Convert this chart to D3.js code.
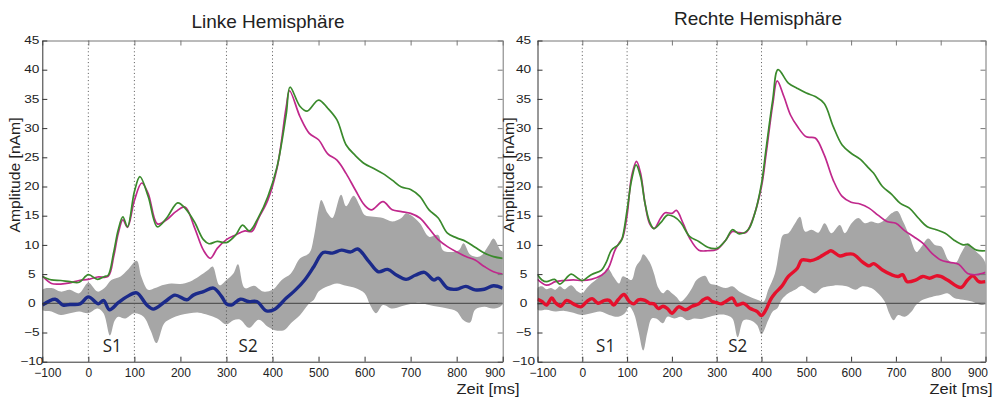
<!DOCTYPE html>
<html>
<head>
<meta charset="utf-8">
<script src="https://cdn.jsdelivr.net/npm/d3@7"></script>
<style>
  html, body { margin: 0; padding: 0; background: #fff; }
  svg { display: block; }
  text { font-family: "Liberation Sans", Arial, sans-serif; fill: #222; }
</style>
</head>
<body>
<svg id="chart" width="1000" height="403"></svg>
<script>
// Source waveforms, [time in ms, amplitude in nAm]

const timeTicks = [-100, 0, 100, 200, 300, 400, 500, 600, 700, 800, 900];
const ampTicks = [-10, -5, 0, 5, 10, 15, 20, 25, 30, 35, 40, 45];
const stimulusMarks = [0, 100, 300, 400];
const stimulusLabels = [{ text: "S1", t: 52 }, { text: "S2", t: 347 }];

// Left hemisphere
const leftGreen = [[-100,4.6],[-80,4.0],[-60,3.9],[-40,3.7],[-20,3.6],[0,4.9],[20,4.1],[35,4.6],[43,4.8],[55,8.7],[65,12.6],[75,14.8],[85,13.1],[100,19.1],[112,21.7],[130,18.3],[150,13.1],[170,14.6],[194,17.2],[210,16.3],[230,14.0],[250,10.9],[262,10.2],[280,10.6],[300,10.4],[320,11.7],[335,13.4],[350,12.4],[370,14.8],[390,18.3],[410,23.4],[430,32.5],[438,37.0],[460,33.7],[475,32.9],[500,34.8],[520,33.4],[540,31.4],[560,27.1],[580,25.3],[600,23.9],[620,23.1],[640,22.2],[660,21.1],[680,19.9],[700,19.5],[720,18.3],[740,16.0],[760,14.6],[780,12.0],[800,11.2],[820,10.6],[840,9.6],[860,8.6],[880,8.0],[900,7.7]];
const leftMagenta = [[-100,4.7],[-80,3.4],[-60,3.3],[-40,3.5],[-20,3.9],[0,4.1],[20,4.5],[43,4.6],[55,8.0],[65,12.0],[75,14.3],[85,13.0],[100,17.6],[116,20.6],[130,18.8],[150,13.6],[170,14.3],[190,15.7],[210,16.5],[230,13.1],[250,9.1],[265,7.7],[280,9.4],[300,10.9],[320,11.7],[340,12.4],[355,12.3],[370,14.6],[390,17.7],[410,23.2],[430,33.7],[437,36.4],[460,31.9],[480,29.1],[500,28.0],[520,25.6],[540,24.5],[560,22.2],[580,19.4],[600,16.8],[615,16.0],[640,17.4],[660,16.0],[680,15.7],[700,15.4],[720,14.6],[740,12.8],[760,10.9],[780,9.7],[800,8.8],[820,8.0],[840,7.4],[860,6.3],[880,5.4],[900,5.0]];
const leftMean = [[-100,-0.3],[-72,0.7],[-55,-0.3],[-40,-0.2],[-18,-0.1],[0,1.1],[22,-0.1],[33,0.5],[46,-1.1],[65,0.1],[83,1.1],[105,1.8],[127,-0.3],[141,-1.0],[167,0.3],[188,1.4],[214,0.6],[228,1.4],[250,2.0],[272,2.6],[290,1.1],[300,-0.1],[311,-0.3],[330,0.7],[348,0.3],[366,0.3],[387,-1.3],[405,-1.0],[430,0.9],[450,2.3],[470,4.0],[490,6.3],[510,8.7],[530,8.6],[550,9.1],[570,8.8],[585,9.3],[610,7.1],[630,5.4],[650,5.8],[670,4.8],[690,4.1],[710,4.8],[730,5.3],[750,4.0],[760,4.3],[780,2.6],[800,2.4],[820,2.9],[840,2.3],[860,2.4],[880,3.0],[900,2.6]];
const leftUpper = [[-100,2.3],[-80,2.6],[-60,2.0],[-40,2.3],[-20,1.7],[0,3.5],[20,2.0],[35,2.6],[50,4.0],[70,4.6],[85,5.7],[105,7.3],[115,4.6],[130,2.3],[145,2.6],[160,3.1],[180,3.4],[200,3.3],[220,3.7],[240,4.6],[260,5.7],[270,6.3],[285,3.1],[300,4.0],[315,5.1],[325,6.7],[340,2.6],[360,3.0],[380,2.0],[400,2.3],[420,4.0],[440,5.1],[460,7.7],[480,8.6],[490,11.4],[500,16.0],[506,17.7],[520,15.4],[530,14.6],[549,18.6],[560,16.6],[576,18.4],[590,16.6],[600,15.1],[620,14.8],[640,14.6],[660,14.0],[680,14.6],[690,15.4],[700,15.1],[720,13.7],[740,11.4],[760,11.7],[770,9.1],[790,8.8],[805,9.1],[815,10.3],[830,8.3],[850,8.0],[870,10.0],[880,11.1],[895,9.1],[900,8.8]];
const leftLower = [[-100,-1.1],[-80,-1.4],[-60,-2.0],[-40,-1.7],[-20,-1.4],[0,-1.7],[20,-0.9],[33,-1.7],[47,-5.5],[57,-3.0],[65,-2.3],[80,-2.6],[100,-1.7],[120,-2.3],[135,-4.6],[148,-6.8],[165,-3.4],[180,-2.6],[200,-2.0],[220,-1.7],[240,-1.6],[260,-2.0],[280,-2.6],[300,-3.6],[315,-2.9],[330,-2.8],[349,-4.2],[370,-2.8],[390,-4.0],[405,-4.6],[425,-4.6],[440,-3.4],[460,-2.0],[480,0.0],[490,0.6],[500,2.0],[520,2.9],[540,3.4],[560,3.0],[580,2.6],[600,1.7],[612,-0.3],[625,-1.7],[640,-0.3],[660,-0.9],[680,-0.5],[700,-0.1],[720,0.1],[740,-0.3],[760,-0.6],[780,-0.9],[800,-1.4],[815,-2.9],[829,-3.3],[840,-1.1],[860,-0.6],[880,-0.9],[900,-0.1]];

// Right hemisphere
const rightGreen = [[-100,4.9],[-90,4.0],[-80,3.7],[-62,4.1],[-50,3.3],[-25,5.0],[-10,4.3],[0,3.9],[20,4.9],[43,5.7],[54,7.1],[65,9.1],[80,10.0],[88,10.9],[100,16.0],[110,21.1],[120,23.7],[130,21.7],[140,17.1],[150,14.0],[160,12.8],[175,13.8],[190,15.1],[205,14.8],[220,13.8],[240,11.4],[260,10.6],[280,9.6],[300,9.4],[320,10.8],[335,12.6],[350,11.9],[370,12.6],[385,15.4],[400,20.5],[410,26.3],[425,34.8],[437,40.0],[460,37.7],[480,36.8],[500,36.0],[520,35.4],[540,34.2],[560,30.3],[580,27.1],[600,25.7],[620,24.7],[640,23.1],[650,22.3],[670,20.0],[690,18.7],[710,17.1],[730,16.3],[750,14.6],[770,13.1],[790,12.6],[810,12.0],[830,10.8],[850,10.0],[860,10.1],[880,9.1],[900,9.0]];
const rightMagenta = [[-100,4.1],[-80,3.1],[-60,3.7],[-40,3.9],[-20,4.0],[0,3.9],[20,4.1],[43,4.8],[58,6.0],[73,9.1],[82,10.3],[90,11.2],[100,15.1],[110,21.7],[121,24.3],[130,22.3],[140,17.1],[150,13.7],[160,12.8],[175,14.6],[185,15.5],[200,15.4],[210,15.9],[225,13.7],[240,11.1],[260,9.1],[280,9.0],[300,9.2],[320,10.8],[335,12.3],[350,12.1],[365,12.1],[380,14.3],[400,20.0],[410,25.4],[425,34.0],[435,38.1],[450,35.4],[465,32.2],[480,30.3],[500,28.5],[520,28.3],[540,25.4],[560,21.1],[580,18.3],[600,17.3],[620,17.0],[640,16.3],[660,15.1],[680,14.0],[700,13.7],[720,12.4],[740,11.4],[760,10.3],[780,8.6],[800,7.4],[820,7.0],[840,6.7],[860,5.1],[880,4.9],[900,5.3]];
const rightMean = [[-100,0.7],[-90,0.3],[-80,-0.3],[-68,0.9],[-60,0.1],[-48,-0.5],[-35,0.5],[-20,-0.1],[-3,-0.6],[10,0.3],[22,0.8],[35,0.0],[50,0.5],[60,0.5],[70,-0.3],[80,0.6],[93,1.5],[105,0.3],[115,-0.1],[125,0.6],[140,0.5],[150,0.0],[160,-0.1],[170,-0.9],[180,-0.5],[190,-0.9],[200,-1.7],[215,-0.6],[230,-1.1],[245,-0.5],[260,-0.1],[270,0.6],[280,0.9],[290,0.3],[300,0.1],[310,-0.1],[320,0.3],[335,0.9],[345,-0.3],[360,0.0],[375,-0.9],[390,-1.4],[400,-2.1],[410,-1.1],[420,0.6],[430,1.7],[445,2.9],[460,4.6],[480,6.0],[490,7.4],[510,7.3],[525,7.7],[545,8.6],[555,9.0],[575,8.1],[590,8.4],[605,8.4],[625,7.1],[640,6.4],[650,6.8],[670,5.7],[690,4.9],[705,4.6],[715,4.9],[725,3.7],[745,4.0],[760,4.6],[775,4.3],[790,4.7],[800,4.6],[815,4.0],[845,2.7],[860,4.0],[872,4.7],[885,3.7],[900,3.7]];
const rightUpper = [[-100,2.6],[-90,2.9],[-80,2.4],[-70,2.6],[-60,2.3],[-50,2.9],[-40,2.4],[-25,3.1],[-10,2.0],[0,1.7],[10,2.6],[20,3.4],[35,4.3],[50,5.4],[57,6.0],[70,4.5],[82,3.4],[90,4.6],[100,4.3],[110,4.0],[120,6.3],[130,7.4],[136,8.4],[150,7.1],[160,5.1],[170,2.6],[180,1.7],[190,2.3],[200,1.7],[210,1.1],[220,0.3],[235,1.4],[245,2.6],[255,4.0],[274,4.7],[285,3.4],[300,3.1],[320,2.6],[335,2.9],[350,2.0],[365,1.4],[380,0.9],[395,0.5],[405,0.3],[415,2.3],[430,5.1],[441,9.7],[448,11.7],[460,12.0],[475,13.7],[486,14.8],[497,12.3],[512,12.6],[527,12.1],[541,13.7],[556,12.0],[575,13.4],[586,12.0],[601,13.7],[616,14.6],[631,13.7],[645,14.0],[661,13.7],[675,14.3],[690,15.4],[703,15.8],[716,14.0],[731,11.4],[746,8.8],[757,9.7],[772,11.1],[787,10.0],[802,9.7],[817,7.4],[832,6.8],[847,8.8],[861,10.3],[876,9.1],[891,8.0],[900,6.8]];
const rightLower = [[-100,-1.1],[-80,-1.1],[-60,-1.4],[-40,-1.3],[-20,-1.6],[0,-2.0],[20,-1.7],[40,-1.4],[60,-2.0],[80,-2.3],[95,-1.7],[105,-0.6],[115,-1.7],[125,-4.6],[136,-8.1],[145,-5.1],[155,-2.6],[165,-2.6],[180,-3.4],[190,-2.3],[205,-2.6],[220,-2.3],[235,-2.9],[250,-2.6],[265,-2.7],[280,-2.4],[300,-2.0],[320,-2.0],[335,-2.6],[347,-5.8],[360,-2.9],[375,-2.9],[390,-3.7],[400,-5.3],[415,-2.9],[425,-1.4],[435,-0.9],[445,0.6],[460,1.7],[475,2.3],[490,3.0],[505,2.3],[520,1.7],[535,2.6],[550,2.9],[570,3.1],[590,2.9],[610,2.3],[625,2.9],[645,2.6],[660,1.7],[675,0.3],[685,-1.7],[695,-2.9],[705,-2.0],[720,-2.3],[735,-1.4],[745,-0.3],[760,0.6],[780,1.1],[800,1.4],[815,1.7],[830,0.9],[850,0.6],[870,0.3],[890,-0.3],[900,0.0]];

const panels = [
  { id: "links", title: "Linke Hemisphäre", left: 42.3, right: 502.7, titleX: 268, titleY: 28,
    yLabelX: 19.5, tickLabelOffset: -10.5, xLabelX: 488,
    green: leftGreen, magenta: leftMagenta, mean: leftMean, upper: leftUpper, lower: leftLower,
    meanColor: "#1b2a8a" },
  { id: "rechts", title: "Rechte Hemisphäre", left: 537.5, right: 985.5, titleX: 758, titleY: 25,
    yLabelX: 514, tickLabelOffset: -14, xLabelX: 961,
    green: rightGreen, magenta: rightMagenta, mean: rightMean, upper: rightUpper, lower: rightLower,
    meanColor: "#e5102c" }
];

const TOP = 40.5, BOTTOM = 361.7;
const svg = d3.select("#chart");
svg.append("rect").attr("width", 1000).attr("height", 403).attr("fill", "#fff");

panels.forEach(p => {
  const x = d3.scaleLinear().domain([-100, 900]).range([p.left, p.right]);
  const y = d3.scaleLinear().domain([-10, 45]).range([BOTTOM, TOP]);

  const clipId = "clip-" + p.id;
  svg.append("clipPath").attr("id", clipId)
    .append("rect")
    .attr("x", p.left).attr("y", TOP)
    .attr("width", p.right - p.left).attr("height", BOTTOM - TOP);

  const plot = svg.append("g").attr("clip-path", `url(#${clipId})`);

  const line = d3.line()
    .x(d => x(d[0])).y(d => y(d[1]))
    .curve(d3.curveCatmullRom.alpha(0.5));

  // spread band: upper edge forward, lower edge back
  const bandOutline = p.upper.concat(p.lower.slice().reverse());
  const bandPath = d3.line()
    .x(d => x(d[0])).y(d => y(d[1]))
    .curve(d3.curveCatmullRomClosed.alpha(0.5));
  plot.append("path")
    .attr("d", bandPath(bandOutline))
    .attr("fill", "#a6a6a6")
    .attr("stroke", "none");

  // zero line
  plot.append("line")
    .attr("x1", p.left).attr("x2", p.right)
    .attr("y1", y(0)).attr("y2", y(0))
    .attr("stroke", "#555").attr("stroke-width", 1.2);

  // stimulus onset / offset markers
  plot.selectAll("line.stim").data(stimulusMarks).join("line")
    .attr("class", "stim")
    .attr("x1", d => x(d)).attr("x2", d => x(d))
    .attr("y1", TOP).attr("y2", BOTTOM)
    .attr("stroke", "#555").attr("stroke-width", 1)
    .attr("stroke-dasharray", "1,2.6");

  plot.append("path").attr("d", line(p.mean))
    .attr("fill", "none").attr("stroke", p.meanColor)
    .attr("stroke-width", 3.4).attr("stroke-linejoin", "round");

  plot.append("path").attr("d", line(p.magenta))
    .attr("fill", "none").attr("stroke", "#c0288c").attr("stroke-width", 1.7);

  plot.append("path").attr("d", line(p.green))
    .attr("fill", "none").attr("stroke", "#3a8a2c").attr("stroke-width", 1.7);

  // box ticks on top and right
  svg.append("g").attr("transform", `translate(0,${TOP})`)
    .call(d3.axisTop(x).tickValues(timeTicks).tickSizeInner(-5).tickSizeOuter(0).tickFormat(""))
    .call(g => g.selectAll("path, line").attr("stroke", "#777"));
  svg.append("g").attr("transform", `translate(${p.right},0)`)
    .call(d3.axisRight(y).tickValues(ampTicks).tickSizeInner(-5).tickSizeOuter(0).tickFormat(""))
    .call(g => g.selectAll("path, line").attr("stroke", "#777"));

  // amplitude axis
  svg.append("g").attr("transform", `translate(${p.left},0)`)
    .call(d3.axisLeft(y).tickValues(ampTicks).tickSizeInner(-5).tickSizeOuter(0))
    .call(g => g.selectAll("path, line").attr("stroke", "#333"))
    .call(g => g.selectAll("text")
      .attr("x", null).attr("dy", "0.3em")
      .attr("text-anchor", "middle")
      .attr("transform", `translate(${p.tickLabelOffset},0) scale(1.3,1)`)
      .attr("fill", "#222")
      .style("font-size", "10.5px")
      .style("font-family", "Liberation Sans, Arial, sans-serif"));

  // time axis
  svg.append("g").attr("transform", `translate(0,${BOTTOM})`)
    .call(d3.axisBottom(x).tickValues(timeTicks).tickSizeInner(-5).tickSizeOuter(0))
    .call(g => g.selectAll("path, line").attr("stroke", "#333"))
    .call(g => g.selectAll("text")
      .attr("y", 6.5)
      .attr("fill", "#222")
      .style("font-size", "12px")
      .style("font-family", "Liberation Sans, Arial, sans-serif"))
    .call(g => g.selectAll(".tick").filter(d => d < 0).select("text").attr("x", 5))
    .call(g => g.selectAll(".tick").filter(d => d === 900).select("text")
      .attr("text-anchor", "end").attr("x", 2));

  // S1 / S2 labels
  svg.selectAll(null).data(stimulusLabels).join("text")
    .attr("x", d => x(d.t)).attr("y", 352)
    .attr("text-anchor", "middle")
    .attr("textLength", 19).attr("lengthAdjust", "spacingAndGlyphs")
    .style("font-family", "'Open Sans', sans-serif")
    .style("font-size", "19px")
    .text(d => d.text);

  svg.append("text")
    .attr("x", p.titleX).attr("y", p.titleY)
    .attr("text-anchor", "middle")
    .style("font-size", "19px")
    .text(p.title);

  svg.append("text")
    .attr("transform", `translate(${p.yLabelX},175) rotate(-90)`)
    .attr("text-anchor", "middle")
    .attr("textLength", 115).attr("lengthAdjust", "spacingAndGlyphs")
    .style("font-size", "14px")
    .text("Amplitude [nAm]");

  svg.append("text")
    .attr("x", p.xLabelX).attr("y", 394)
    .attr("text-anchor", "middle")
    .attr("textLength", 63).attr("lengthAdjust", "spacingAndGlyphs")
    .style("font-size", "15px")
    .text("Zeit [ms]");
});
</script>
</body>
</html>
